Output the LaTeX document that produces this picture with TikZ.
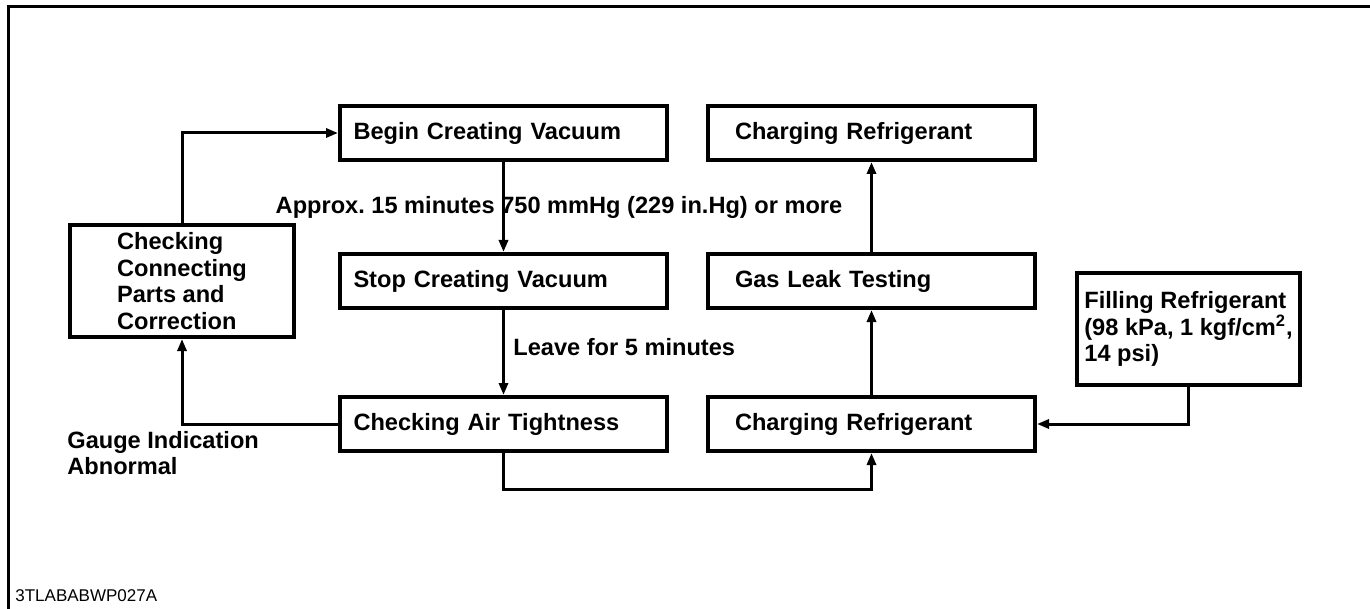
\documentclass[tikz,border=0pt]{standalone}
\usepackage{fontspec}
\setmainfont{Liberation Sans}
\usetikzlibrary{arrows.meta}
\frenchspacing
\begin{document}
\begin{tikzpicture}[x=0.5pt,y=-0.5pt,
  box/.style={draw, line width=2pt, minimum height=27pt, inner sep=0pt,
    font=\bfseries\fontsize{11.8}{13.4}\selectfont},
  lbox/.style={box, text width=150pt, align=left, inner xsep=6.75pt, minimum width=163.5pt},
  rbox/.style={box, text width=136.5pt, align=left, inner xsep=13.5pt, minimum width=163.5pt},
  conn/.style={line width=1.5pt, -{Triangle[length=6pt,width=4.5pt]}},
  lbl/.style={font=\bfseries\fontsize{11.8}{13.4}\selectfont, inner sep=0pt, align=left}]
\useasboundingbox (0,0) rectangle (1370,609);
\draw[line width=1.5pt] (8,609) -- (8,7) -- (1370,7);

\node[lbox] (begin) at (503.5,133) {Begin Creating Vacuum};
\node[lbox] (stop) at (503.5,281) {Stop Creating Vacuum};
\node[lbox] (air) at (503.5,424) {Checking Air Tightness};
\node[rbox] (chg1) at (871.5,133) {Charging Refrigerant};
\node[rbox] (gas) at (871.5,281) {Gas Leak Testing};
\node[rbox] (chg2) at (871.5,424) {Charging Refrigerant};
\node[box, align=left, minimum width=112pt, minimum height=56pt] (chk) at (182,281)
  {Checking\\Connecting\\Parts and\\Correction};
\node[box, align=left, minimum width=111.5pt, minimum height=56pt] (fill) at (1188.5,329)
  {Filling Refrigerant\\(98 kPa, 1 kgf/cm\textsuperscript{2},\\14 psi)};

\node[lbl] (approx) at (559,207) {Approx. 15 minutes 750 mmHg (229 in.Hg) or more};
\node[lbl, anchor=west] (leave) at (513,347) {Leave for 5 minutes};
\node[lbl, anchor=west] (gauge) at (67,453) {Gauge Indication\\Abnormal};
\node[anchor=west, inner sep=0pt, font=\fontsize{8.5}{10}\selectfont] (code) at (15,596) {3TLABABWP027A};

\draw[conn] (chk.north) |- (begin.west);
\draw[conn] (begin.south) -- (stop.north);
\draw[conn] (stop.south) -- (air.north);
\draw[conn] (air.west) -| (chk.south);
\draw[conn] (air.south) -- ++(0,36) -| (chg2.south);
\draw[conn] (chg2.north) -- (gas.south);
\draw[conn] (gas.north) -- (chg1.south);
\draw[conn] (fill.south) |- (chg2.east);
\end{tikzpicture}
\end{document}
